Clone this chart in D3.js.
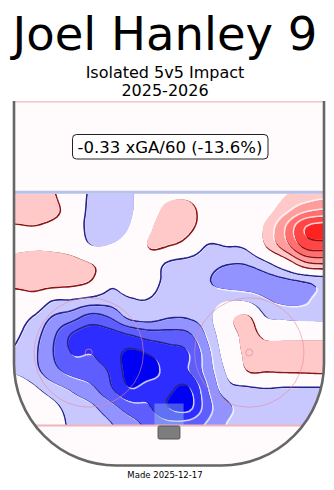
<!DOCTYPE html>
<html><head><meta charset="utf-8">
<script src="https://cdn.jsdelivr.net/npm/d3@7"></script>
<style>
body{margin:0;background:#fff}
svg{display:block}
text{font-family:"DejaVu Sans",sans-serif;fill:#000}
</style>
</head><body>
<svg id="chart" width="334" height="490"></svg>
<script>
// ---------- data ----------
const titleText = "Joel Hanley 9";
const subtitleLines = ["Isolated 5v5 Impact", "2025-2026"];
const impactLabel = "-0.33 xGA/60 (-13.6%)";
const footerText = "Made 2025-12-17";

// contour levels (positive = more xGA against = red, negative = blue)
const levels = [1, 2, 3, 4, 5];
const redColors  = ["#ffc9c9", "#ff9c9c", "#ff6f6f", "#ff4545", "#ff2222"];
const blueColors = ["#c8c8ff", "#9393ff", "#5e5eff", "#2d2dff", "#0000f2"];

// impact grid: rows from blue line (top) to goal line (bottom), 17 columns across the rink
const impactGrid = [
  [ 1.5, 1.6, 1.1,-0.3,-1.1,-1.5,-1.2, 0.2, 0.6, 0.6,-0.3, 0.0, 0.0, 0.3, 0.9, 1.2, 1.5],
  [ 1.6, 1.6, 1.3, 0.2,-1.3,-1.7,-1.2, 0.3, 1.4, 1.4, 0.2, 0.0, 0.0, 0.6, 1.6, 2.6, 3.0],
  [ 0.8, 0.9, 0.6, 0.0,-1.4,-1.6,-0.9, 0.8, 1.7, 1.2, 0.2, 0.0, 0.2, 1.2, 2.9, 4.9, 5.4],
  [ 0.7, 0.8, 0.7, 0.3,-0.95,-0.9,-0.3,1.1, 0.9, 0.3,-1.0,-0.9,-0.7, 1.0, 2.5, 4.2, 4.4],
  [ 1.5, 1.7, 1.7, 1.5, 1.0, 0.3, 0.0,-0.2,-1.1,-1.4,-1.6,-1.9,-1.9,-1.2, 0.0, 1.5, 1.8],
  [ 1.4, 1.5, 1.5, 1.3, 0.8,-0.7,-0.4,-0.5,-1.3,-1.5,-1.9,-2.4,-2.5,-2.4,-2.2,-1.9,-1.6],
  [ 0.0, 0.3,-0.8,-0.9,-1.2,-1.4,-1.05,-1.0,-1.5,-1.7,-1.6,-1.1,-1.2,-1.9,-2.2,-2.1,-1.6],
  [-0.5,-1.0,-2.0,-2.5,-3.3,-2.9,-1.7,-1.5,-1.9,-1.9,-1.4, 0.5, 1.3,-0.9,-1.2,-1.3,-1.3],
  [-0.8,-1.5,-2.7,-4.05,-4.5,-4.4,-4.0,-3.5,-3.4,-3.2,-1.8, 0.0, 1.4, 0.7, 0.6, 0.6, 0.6],
  [-1.05,-1.7,-2.9,-4.0,-4.0,-4.5,-5.2,-4.9,-4.4,-4.0,-2.3,-0.3, 1.3, 1.5, 1.7, 1.8, 1.8],
  [-1.1,-1.6,-2.6,-3.3,-3.6,-4.1,-5.4,-5.3,-4.6,-4.0,-2.5,-0.8, 0.9, 0.95,1.0, 1.05,1.1],
  [ 0.0,-0.7,-1.5,-2.1,-2.7,-3.8,-4.9,-4.4,-4.8,-5.1,-3.0,-1.4,-1.2,-1.0,-1.1,-1.1,-1.1],
  [ 0.0, 0.0,-0.6,-1.5,-1.8,-2.6,-3.5,-3.9,-5.0,-5.2,-3.3,-2.2,-1.6,-1.3,-1.2,-1.2,-1.1],
  [ 0.0, 0.0, 0.0,-1.3,-1.5,-1.9,-2.6,-3.2,-3.6,-3.4,-2.8,-1.9,-1.3,-1.2,-1.2,-1.2,-1.2]
];
// grid extent in rink feet (x: across, y: from centre line)
const gridXExtent = [-42.5, 42.5];
const gridYExtent = [25, 89];

(function () {
// ---------- layout ----------
const svg = d3.select("#chart");
const xFt = d3.scaleLinear([-42.5, 42.5], [14, 324]);
const yFt = d3.scaleLinear([0, 100], [101, 465.5]);
const pxPerFt = (xFt(1) - xFt(0));

const rL = xFt(-42.5), rR = xFt(42.5), rT = yFt(0), rB = yFt(100);
const cr = 28 * pxPerFt;
const rinkPath = `M${rL},${rT} V${rB - cr} A${cr},${cr} 0 0 0 ${rL + cr},${rB} H${rR - cr} A${cr},${cr} 0 0 0 ${rR},${rB - cr} V${rT}`;

const defs = svg.append("defs");
defs.append("clipPath").attr("id", "rinkClip").append("path").attr("d", rinkPath + " Z");
defs.append("clipPath").attr("id", "zoneClip").append("rect")
  .attr("x", 0).attr("y", yFt(25) + 1.5).attr("width", 334).attr("height", yFt(89) - yFt(25) - 1.5);

// rink background
svg.append("path").attr("d", rinkPath + " Z").attr("fill", "#fffbfc");

// ---------- heat map ----------
const nCols = impactGrid[0].length, nRows = impactGrid.length;
const k = 6;
const nx = (nCols - 1) * k + 1, ny = (nRows - 1) * k + 1;
function g(r, c) {
  r = Math.max(0, Math.min(nRows - 1, r));
  c = Math.max(0, Math.min(nCols - 1, c));
  return impactGrid[r][c];
}
function cw(t) {
  const t2 = t * t, t3 = t2 * t;
  return [(-t3 + 2 * t2 - t) / 2, (3 * t3 - 5 * t2 + 2) / 2, (-3 * t3 + 4 * t2 + t) / 2, (t3 - t2) / 2];
}
const fine = new Float64Array(nx * ny);
for (let j = 0; j < ny; j++) {
  const v = j / k, r0 = Math.floor(v), ty = v - r0, wy = cw(ty);
  for (let i = 0; i < nx; i++) {
    const u = i / k, c0 = Math.floor(u), tx = u - c0, wx = cw(tx);
    let s = 0;
    for (let a = 0; a < 4; a++) for (let b = 0; b < 4; b++)
      s += wy[a] * wx[b] * g(r0 - 1 + a, c0 - 1 + b);
    fine[j * nx + i] = s;
  }
}
const neg = fine.map(d => -d);

const gx = d3.scaleLinear([0, nx - 1], gridXExtent);
const gy = d3.scaleLinear([0, ny - 1], gridYExtent);
const proj = d3.geoTransform({
  point(x, y) { this.stream.point(xFt(gx(x - 0.5)), yFt(gy(y - 0.5))); }
});
const path = d3.geoPath(proj);
const contours = d3.contours().size([nx, ny]).thresholds(levels);
const redC = contours(fine);
const blueC = contours(neg);

const heat = svg.append("g").attr("clip-path", "url(#zoneClip)")
  .append("g").attr("clip-path", "url(#rinkClip)");

function drawSet(set, colors, darkLine, darkOff) {
  set.forEach((c, i) => {
    const d = path(c);
    heat.append("path").attr("d", d).attr("fill", "none")
      .attr("stroke", "#ffffff").attr("stroke-width", 1.5).attr("stroke-opacity", 0.75)
      .attr("transform", `translate(${-darkOff},${-darkOff})`);
    heat.append("path").attr("d", d).attr("fill", "none")
      .attr("stroke", darkLine).attr("stroke-width", 1.6)
      .attr("transform", `translate(${darkOff},${darkOff})`);
    heat.append("path").attr("d", d).attr("fill", colors[i]);
  });
}
drawSet(redC, redColors, "#8c1414", 1);
drawSet(blueC, blueColors, "#23238c", -1);

// crease
svg.append("rect").attr("x", xFt(-4)).attr("y", yFt(83)).attr("width", xFt(4) - xFt(-4)).attr("height", yFt(89) - yFt(83))
  .attr("fill", "#add8e6").attr("fill-opacity", 0.4);

// ---------- rink markings ----------
const marks = svg.append("g").attr("clip-path", "url(#rinkClip)");
marks.append("line").attr("x1", rL).attr("x2", rR).attr("y1", yFt(0)).attr("y2", yFt(0))
  .attr("stroke", "#f3c3c8").attr("stroke-width", 3);
marks.append("line").attr("x1", rL).attr("x2", rR).attr("y1", yFt(25)).attr("y2", yFt(25))
  .attr("stroke", "#b6c2e8").attr("stroke-width", 3);
marks.append("line").attr("x1", rL).attr("x2", rR).attr("y1", yFt(89)).attr("y2", yFt(89))
  .attr("stroke", "#f0b4bc").attr("stroke-width", 2);
[-22, 22].forEach(fx => {
  marks.append("circle").attr("cx", xFt(fx)).attr("cy", yFt(69)).attr("r", 15 * pxPerFt)
    .attr("fill", "none").attr("stroke", "#e58a9c").attr("stroke-opacity", 0.6).attr("stroke-width", 1);
  marks.append("circle").attr("cx", xFt(fx)).attr("cy", yFt(69)).attr("r", 3.5)
    .attr("fill", "none").attr("stroke", "#e58a9c").attr("stroke-opacity", 0.7).attr("stroke-width", 1);
});
// net
svg.append("rect").attr("x", xFt(-3)).attr("y", yFt(89) + 0.6).attr("width", xFt(3) - xFt(-3)).attr("height", 13)
  .attr("rx", 1.5).attr("fill", "#7d7d7d").attr("stroke", "#555").attr("stroke-width", 1);

// boards
svg.append("path").attr("d", rinkPath).attr("fill", "none").attr("stroke", "#666").attr("stroke-width", 2.6);

// ---------- text ----------
svg.append("rect").attr("x", 72.5).attr("y", 134.5).attr("width", 195.5).attr("height", 24.5).attr("rx", 4)
  .attr("fill", "#fff").attr("stroke", "#222").attr("stroke-width", 1);
svg.append("text").attr("x", 170).attr("y", 152.5).attr("text-anchor", "middle")
  .attr("font-size", 16.5).text(impactLabel);

svg.append("text").attr("x", 165).attr("y", 50).attr("text-anchor", "middle")
  .attr("font-size", 46.5).text(titleText);
subtitleLines.forEach((t, i) => {
  svg.append("text").attr("x", 165).attr("y", 78 + i * 17.5).attr("text-anchor", "middle")
    .attr("font-size", 16).text(t);
});
svg.append("text").attr("x", 165).attr("y", 477.5).attr("text-anchor", "middle")
  .attr("font-size", 8.5).text(footerText);
})();
</script>
</body></html>
